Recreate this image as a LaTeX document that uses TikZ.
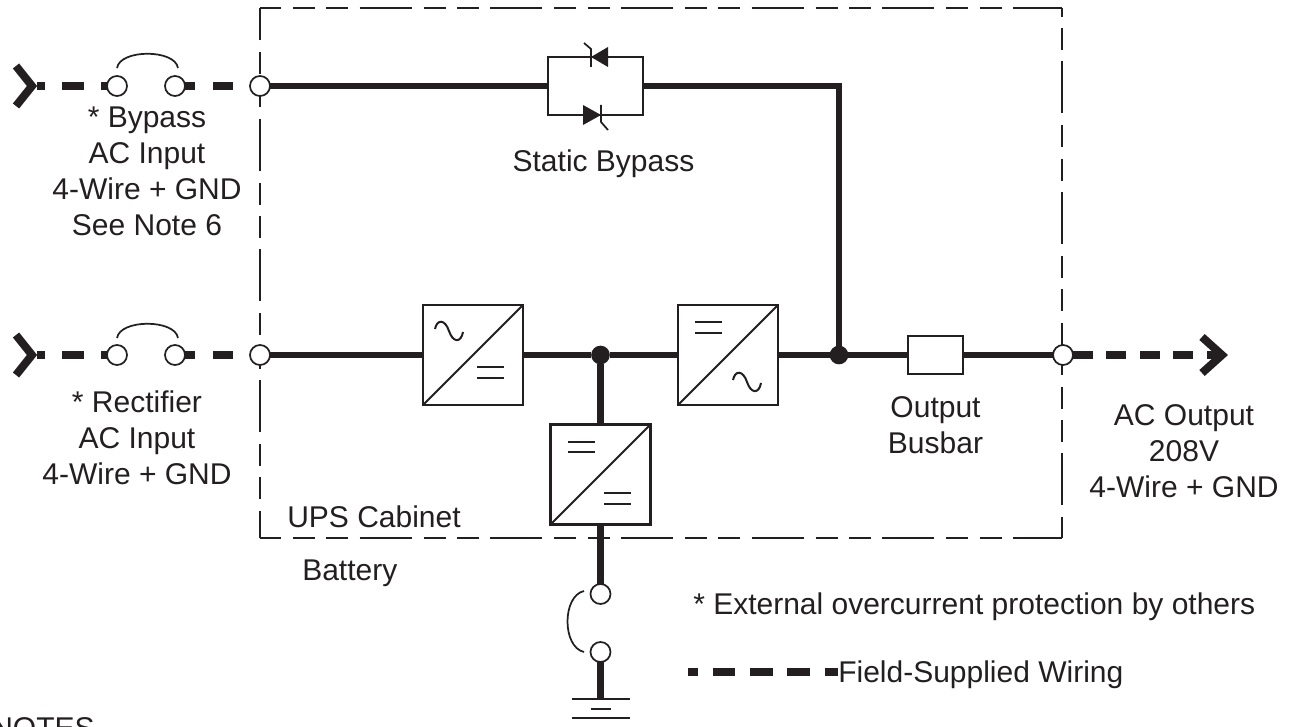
\documentclass[tikz,border=0pt]{standalone}
\usepackage{fontspec}
\setmainfont{Liberation Sans}
\usetikzlibrary{positioning}
\definecolor{nero}{HTML}{231F20}
\begin{document}
\begin{tikzpicture}[x=0.75pt,y=-0.75pt,node distance=0pt,color=nero,
testo/.style={align=center,inner sep=0pt,font=\fontsize{22.5}{27}\selectfont},
testoL/.style={testo,anchor=west},
convert/.style={draw,fill=white,line width=1.6pt,minimum size=75pt,inner sep=0pt,outer sep=0pt},
scatola/.style={draw,fill=white,line width=1.6pt,inner sep=0pt,outer sep=0pt},
morsetto/.style={draw,fill=white,circle,line width=1.3pt,minimum size=15pt,inner sep=0pt,outer sep=0pt},
giunto/.style={fill=nero,circle,minimum size=14pt,inner sep=0pt,outer sep=0pt},
filo/.style={line width=5.2pt},
tratto/.style={line width=5.4pt},
sottile/.style={line width=1.3pt},
simbolo/.style={line width=1.5pt},
cabina/.style={line width=1.8pt,dash pattern=on 39pt off 9pt on 16.5pt off 8.5pt on 16.5pt off 8.5pt}
]
\useasboundingbox (0,0) rectangle (1294,727);
%-- cabinet
\coordinate (cabNW) at (260,8);
\coordinate (cabNE) at (1062,8);
\coordinate (cabSW) at (260,538);
\coordinate (cabSE) at (1062,538);
\draw[cabina,dash phase=23.25pt] (cabNW) -- (cabNE);
\draw[cabina,dash phase=15pt] (cabNW) -- (cabSW);
\draw[cabina,dash phase=58pt] (cabNE) -- (cabSE);
\draw[cabina,dash phase=23.25pt] (cabSW) -- (cabSE);
%-- bypass input
\coordinate (chevA) at (37,86);
\node[morsetto] (bypA) at (117,86){};
\node[morsetto,right = 28.5pt of bypA] (bypB){};
\node[morsetto] (bypC) at (260,86){};
\draw[tratto,dash pattern=on 16.5pt off 12.75pt,dash phase=10.5pt] (chevA) -- (bypA);
\draw[tratto,dash pattern=on 15pt off 13.5pt,dash phase=7.5pt] (bypB) -- (bypC);
\draw[line width=6pt,miter limit=10] (16,66) -- (32,86) -- (16,106);
\draw[sottile] (117,68) .. controls (120,49) and (175,49) .. (178,68);
\node[testo] (bypT) at (147,171){* Bypass\\AC Input\\4-Wire + GND\\See Note 6};
%-- static bypass
\node[scatola,minimum width=71.25pt,minimum height=43.5pt] (sbox) at (595.5,86){};
\fill (591,57) -- (608,47) -- (608,67) -- cycle;
\fill (601,115) -- (583,105) -- (583,125) -- cycle;
\draw[sottile] (584,43) -- (591,49) -- (591,67);
\draw[sottile] (601,105) -- (601,122) -- (608,130);
\node[testo,below = 26pt of sbox,xshift=6pt] (sboxT){Static Bypass};
%-- rectifier input
\coordinate (chevB) at (37,355);
\node[morsetto] (retA) at (117,355){};
\node[morsetto,right = 28.5pt of retA] (retB){};
\node[morsetto] (retC) at (260,355){};
\draw[tratto,dash pattern=on 16.5pt off 12.75pt,dash phase=10.5pt] (chevB) -- (retA);
\draw[tratto,dash pattern=on 15pt off 13.5pt,dash phase=7.5pt] (retB) -- (retC);
\draw[line width=6pt,miter limit=10] (16,335) -- (32,355) -- (16,375);
\draw[sottile] (117,338) .. controls (120,319) and (175,319) .. (178,338);
\node[testo] (retT) at (137,438){* Rectifier\\AC Input\\4-Wire + GND};
%-- converters
\node[convert] (conva) at (473,355){};
\node[giunto] (ja) at (600.5,355){};
\node[convert] (convb) at (728,355){};
\node[giunto] (jb) at (839,355){};
\node[convert] (convc) at (600.5,474.5){};
\draw[simbolo] (conva.south west) -- (conva.north east);
\draw[simbolo] (convb.south west) -- (convb.north east);
\draw[simbolo] (convc.south west) -- (convc.north east);
%--
\draw[simbolo] (435,329) .. controls (437,319) and (445,319) .. (449,331) .. controls (453,343) and (461,343) .. (463,332);
\draw[simbolo] (477,367) -- (504,367);
\draw[simbolo] (477,378) -- (504,378);
%--
\draw[simbolo] (695,322) -- (722,322);
\draw[simbolo] (695,333) -- (722,333);
\draw[simbolo] (733,380) .. controls (735,370) and (743,370) .. (747,382) .. controls (751,394) and (759,394) .. (761,383);
%--
\draw[simbolo] (568,442) -- (595,442);
\draw[simbolo] (568,452) -- (595,452);
\draw[simbolo] (604,493) -- (631,493);
\draw[simbolo] (604,504) -- (631,504);
%-- output
\node[scatola,minimum width=41.25pt,minimum height=28.5pt] (fuse) at (935.5,355){};
\node[morsetto] (outC) at (1063,355){};
\coordinate (chevC) at (1222,355);
\node[testo,below = 17pt of fuse] (fuseT){Output\\Busbar};
\node[testo] (outT) at (1184,451){AC Output\\208V\\4-Wire + GND};
\draw[tratto,dash pattern=on 15pt off 10.1pt] (outC) -- (chevC);
\draw[line width=6pt,miter limit=10] (1202,337) -- (1222,355) -- (1202,373);
%-- wires
\draw[filo] (bypC) -- (sbox);
\draw[filo] (sbox) -| (jb);
\draw[filo] (retC) -- (conva);
\draw[filo] (conva) -- (ja);
\draw[filo] (ja) -- (convb);
\draw[filo] (convb) -- (jb);
\draw[filo] (jb) -- (fuse);
\draw[filo] (fuse) -- (outC);
\draw[filo] (ja) -- (convc);
%-- battery
\node[morsetto] (batA) at (600.5,594){};
\node[morsetto] (batB) at (600.5,652){};
\coordinate (gnd) at (600.5,699);
\draw[filo] (convc) -- (batA);
\draw[filo] (batB) -- (gnd);
\draw[sottile] (584,591) .. controls (562,596) and (562,647) .. (584,652);
\draw[sottile] (gnd) ++(-29,0) -- ++(58,0);
\draw[sottile] (gnd) ++(-10,10) -- ++(20,0);
\draw[sottile] (gnd) ++(-29,19) -- ++(58,0);
%-- labels
\node[testoL] (cabT) at (287,517){UPS Cabinet};
\node[testoL] (batT) at (302,573){Battery};
\node[testoL] (noteT) at (693,607){* External overcurrent protection by others};
\coordinate (legA) at (688,672);
\node[testoL] (legT) at (838,675){Field-Supplied Wiring};
\draw[tratto,dash pattern=on 17pt off 11pt,dash phase=9.5pt] (legA) -- (legA -| legT.west);
\node[testoL] (notesT) at (-9,728){NOTES};
\end{tikzpicture}
\end{document}
